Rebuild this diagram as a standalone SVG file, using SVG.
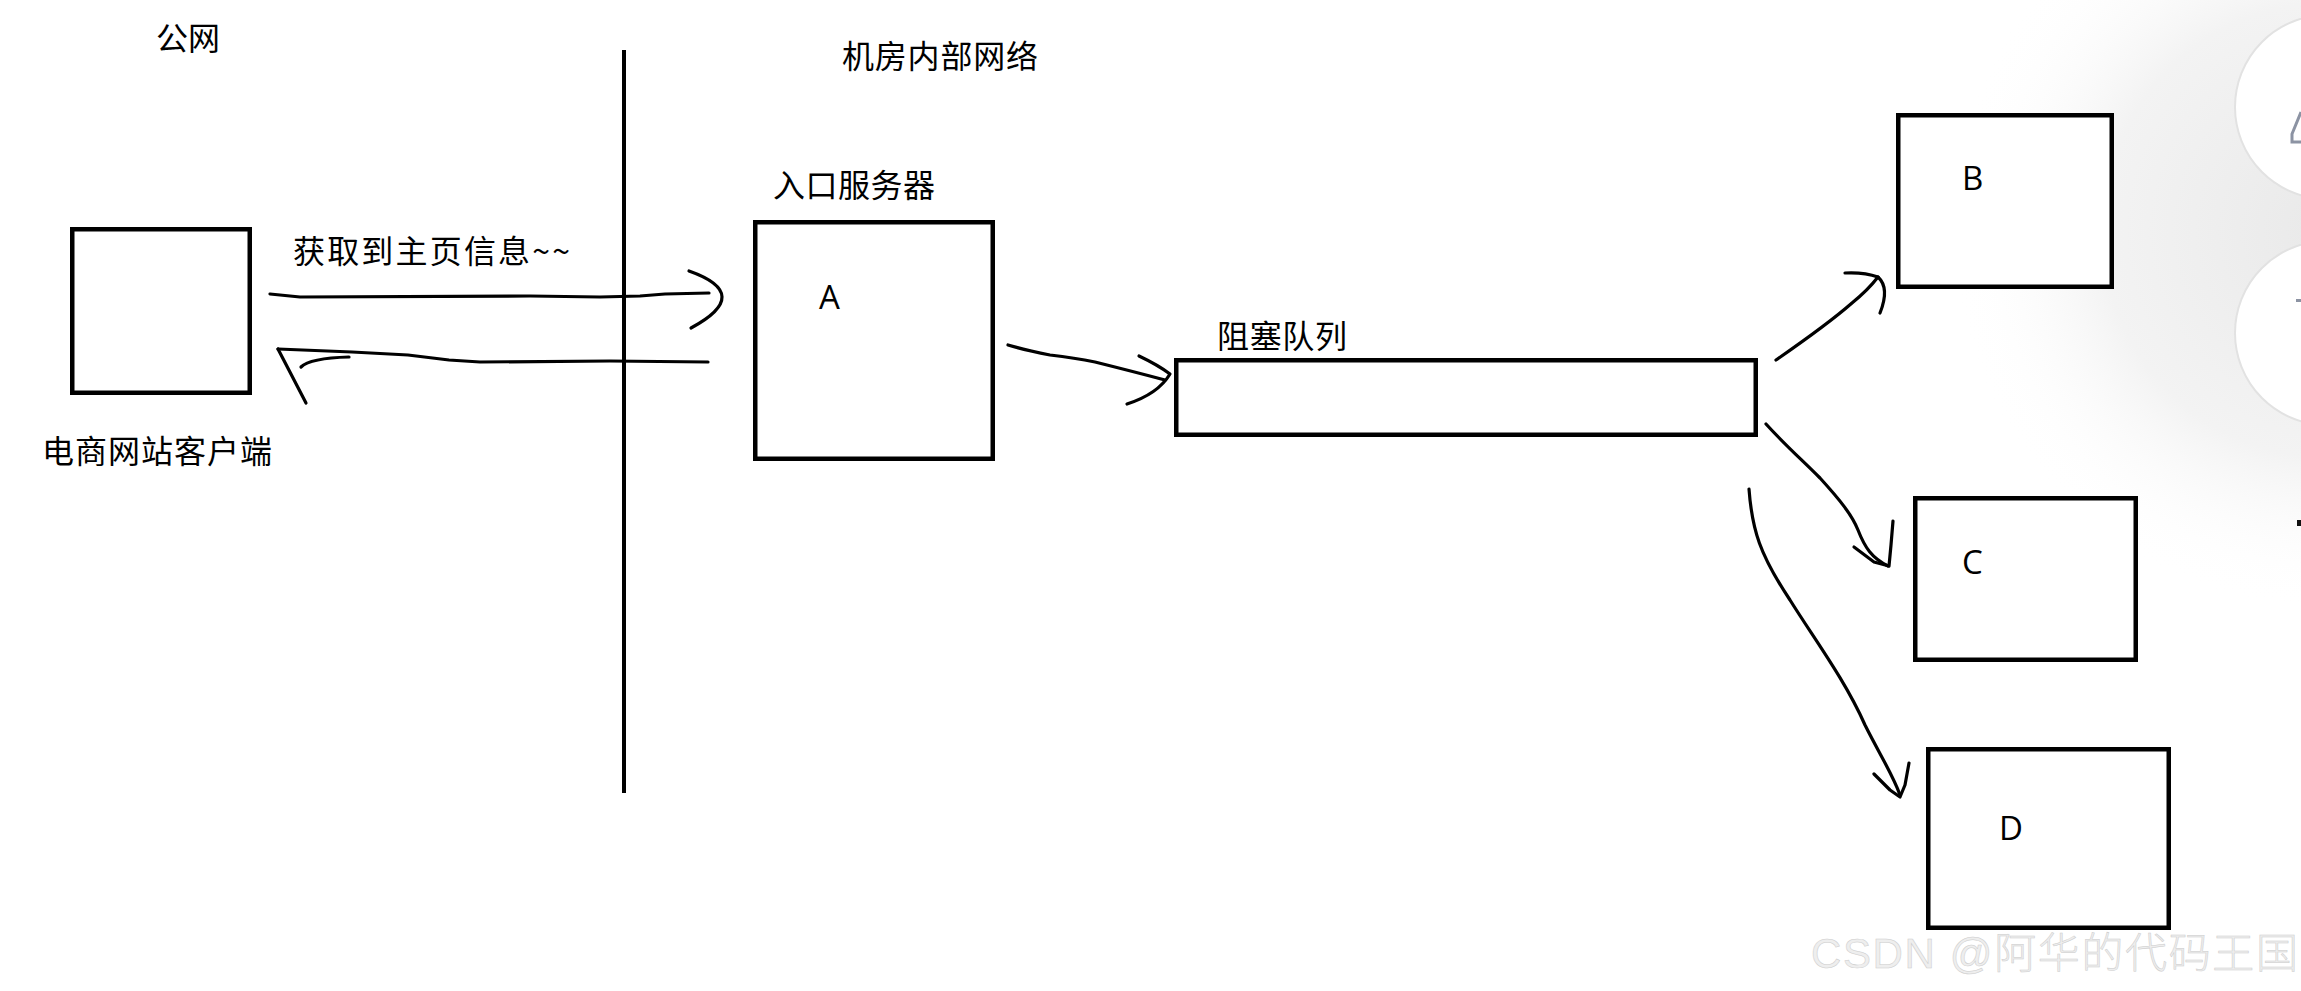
<svg xmlns="http://www.w3.org/2000/svg" width="2301" height="991" viewBox="0 0 2301 991">
  <defs>
    <radialGradient id="glow" cx="2330" cy="230" r="380" gradientUnits="userSpaceOnUse">
      <stop offset="0" stop-color="#e9e9e9"/>
      <stop offset="0.6" stop-color="#f3f3f3"/>
      <stop offset="1" stop-color="#ffffff" stop-opacity="0"/>
    </radialGradient>
    <style>
      .box{fill:#fff;stroke:#000;stroke-width:4.5}
      .ln{fill:none;stroke:#000;stroke-width:3.2;stroke-linecap:round;stroke-linejoin:round}
      .cjk{font-family:"Noto Sans CJK SC","Noto Sans",sans-serif;font-size:32px;fill:#000}
      .lat{font-family:"Open Sans","Liberation Sans",sans-serif;font-size:33px;fill:#000}
      .wm{font-family:"Liberation Sans","Noto Sans CJK SC",sans-serif;font-size:42px;font-weight:300;fill:#eeeeee;stroke:#cccccc;stroke-width:0.5}
    </style>
  </defs>
  <rect width="2301" height="991" fill="#fff"/>

  <!-- right-edge UI artifacts -->
  <g id="ui-artifacts">
    <rect x="1900" y="0" width="401" height="620" fill="url(#glow)"/>
    <circle cx="2327" cy="107" r="92" fill="#fff" stroke="#e2e2e2" stroke-width="2"/>
    <circle cx="2327" cy="333" r="92" fill="#fff" stroke="#e2e2e2" stroke-width="2"/>
    <path d="M2301,112 L2292,134 L2292,142 L2301,142" fill="none" stroke="#8c93a3" stroke-width="3"/>
    <rect x="2296" y="299" width="5" height="3" fill="#8c93a3"/>
    <rect x="2297" y="520" width="4" height="6" fill="#111"/>
  </g>

  <!-- zone labels and divider -->
  <g id="public-net">
    <text class="cjk" x="156" y="50">公网</text>
  </g>
  <g id="internal-net">
    <text class="cjk" x="842" y="68" textLength="196">机房内部网络</text>
  </g>
  <g id="divider">
    <line x1="624" y1="50" x2="624" y2="793" stroke="#000" stroke-width="4"/>
  </g>

  <!-- nodes -->
  <g id="client">
    <rect class="box" x="72.25" y="229.25" width="177.5" height="163.5"/>
    <text class="cjk" x="42" y="463" textLength="230">电商网站客户端</text>
  </g>
  <g id="server-a">
    <text class="cjk" x="773" y="197" textLength="162">入口服务器</text>
    <rect class="box" x="755.25" y="222.25" width="237.5" height="236.5"/>
    <text class="lat" x="819" y="309">A</text>
  </g>
  <g id="queue">
    <text class="cjk" x="1217" y="348" textLength="130">阻塞队列</text>
    <rect class="box" x="1176.25" y="360.25" width="579.5" height="74.5"/>
  </g>
  <g id="node-b">
    <rect class="box" x="1898.25" y="115.25" width="213.5" height="171.5"/>
    <text class="lat" x="1962" y="190">B</text>
  </g>
  <g id="node-c">
    <rect class="box" x="1915.25" y="498.25" width="220.5" height="161.5"/>
    <text class="lat" x="1962" y="574">C</text>
  </g>
  <g id="node-d">
    <rect class="box" x="1928.25" y="749.25" width="240.5" height="178.5"/>
    <text class="lat" x="1999" y="840">D</text>
  </g>

  <!-- connectors -->
  <g id="connectors">
    <text class="cjk" x="293" y="263" textLength="277">获取到主页信息~~</text>
    <path class="ln" d="M270,294 L300,297 L530,296 L600,297 L640,296 L665,294 L709,293"/>
    <path class="ln" d="M689,271 Q754,294 691,328"/>
    <path class="ln" d="M708,362 L610,361 L480,362 L449,360 L408,355 L352,352 L278,349"/>
    <path class="ln" d="M278,349 L306,403"/>
    <path class="ln" d="M301,367 Q310,358 349,357"/>
    <path class="ln" d="M1008,345 Q1025,350 1050,355 Q1075,358 1095,362 Q1135,372 1165,380"/>
    <path class="ln" d="M1139,356 Q1158,365 1170,374 Q1158,394 1127,404"/>
    <path class="ln" d="M1776,360 Q1828,324 1852,303 Q1868,290 1878,277"/>
    <path class="ln" d="M1845,273 Q1864,272 1878,277 Q1890,288 1880,313"/>
    <path class="ln" d="M1766,424 C1785,445 1800,458 1820,478 C1840,500 1852,515 1858,530 C1865,548 1872,558 1888,566"/>
    <path class="ln" d="M1854,547 L1874,562 L1889,566 L1891,545 L1893,521"/>
    <path class="ln" d="M1749,489 C1752,530 1760,555 1790,600 C1815,640 1845,680 1865,725 C1880,755 1893,775 1900,795"/>
    <path class="ln" d="M1874,774 L1890,790 L1900,797 L1905,785 L1909,763"/>
  </g>

  <g id="watermark">
    <text class="wm" x="1811" y="968" textLength="487">CSDN @阿华的代码王国</text>
  </g>
</svg>
